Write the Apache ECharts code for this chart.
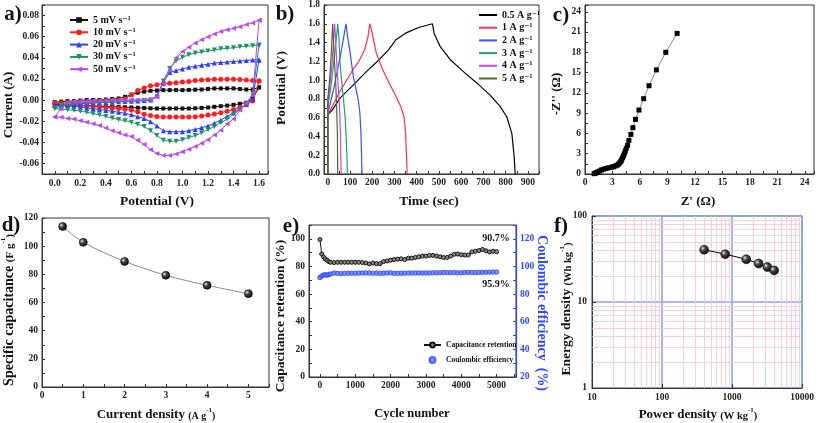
<!DOCTYPE html>
<html>
<head>
<meta charset="utf-8">
<script src="https://cdn.jsdelivr.net/npm/echarts@6/dist/echarts.min.js"></script>
<style>
  html, body { margin: 0; padding: 0; background: #fff; }
  #chart { width: 817px; height: 423px; }
</style>
</head>
<body>
<div id="chart"></div>
<script>
// ---------- a) cyclic voltammetry ----------
const cvV = [0, 0.05, 0.1, 0.15, 0.2, 0.25, 0.3, 0.35, 0.4, 0.45, 0.5, 0.55, 0.6, 0.65, 0.7, 0.75, 0.8,
  0.85, 0.9, 0.95, 1.0, 1.05, 1.1, 1.15, 1.2, 1.25, 1.3, 1.35, 1.4, 1.45, 1.5, 1.55, 1.6]
const cvNames = ['5 mV s⁻¹', '10 mV s⁻¹', '20 mV s⁻¹', '30 mV s⁻¹', '50 mV s⁻¹']
// anodic (forward) branch, current in A
const cv5Up = [-0.002, -0.0015, -0.001, -0.001, -0.0005, 0, 0, 0, 0.0005, 0.001, 0.0015, 0.003, 0.005, 0.007, 0.008, 0.0088, 0.009,
  0.0094, 0.0094, 0.0094, 0.0094, 0.0096, 0.0098, 0.010, 0.0105, 0.011, 0.011, 0.011, 0.011, 0.0105, 0.010, 0.010, 0.012]
const cv10Up = [-0.003, -0.0028, -0.0025, -0.0022, -0.002, -0.0018, -0.0015, -0.0012, -0.001, -0.0005, 0, 0.001, 0.005, 0.009, 0.0115, 0.0135, 0.0145,
  0.0155, 0.016, 0.0165, 0.017, 0.0175, 0.0185, 0.019, 0.0193, 0.0196, 0.0197, 0.0197, 0.0197, 0.0195, 0.019, 0.0185, 0.018]
const cv20Up = [-0.005, -0.0045, -0.004, -0.0037, -0.0034, -0.0031, -0.0028, -0.0025, -0.0022, -0.002, -0.0017, -0.0014, -0.0011, -0.0008, -0.0005, 0, 0.004,
  0.017, 0.026, 0.028, 0.0295, 0.031, 0.032, 0.033, 0.034, 0.035, 0.0355, 0.036, 0.0365, 0.037, 0.0375, 0.038, 0.038]
const cv30Up = [-0.008, -0.005, -0.004, -0.0035, -0.003, -0.0028, -0.0025, -0.0022, -0.002, -0.0018, -0.0015, -0.0012, -0.001, -0.0008, -0.0005, 0, 0.003,
  0.018, 0.030, 0.037, 0.0405, 0.043, 0.0445, 0.0455, 0.0465, 0.0475, 0.0485, 0.049, 0.0495, 0.0505, 0.051, 0.0515, 0.052]
const cv50Up = [-0.016, -0.008, -0.002, -0.0012, -0.001, -0.0008, -0.0006, -0.0004, -0.0002, 0, 0, 0, 0, 0, 0.0003, 0.0005, 0.003,
  0.016, 0.028, 0.040, 0.046, 0.050, 0.054, 0.057, 0.060, 0.0625, 0.065, 0.0665, 0.068, 0.0695, 0.0715, 0.073, 0.0755]
// cathodic (reverse) branch, listed with rising potential
const cv5Down = [-0.004, -0.0042, -0.0045, -0.0048, -0.005, -0.0052, -0.0055, -0.0058, -0.006, -0.0063, -0.0066, -0.0068, -0.007, -0.0073, -0.0076, -0.0078, -0.008,
  -0.008, -0.008, -0.008, -0.008, -0.008, -0.0078, -0.0074, -0.007, -0.0064, -0.0058, -0.0052, -0.0045, -0.0035, -0.0025, 0.0012, 0.012]
const cv10Down = [-0.003, -0.0035, -0.004, -0.0045, -0.005, -0.0055, -0.006, -0.0066, -0.007, -0.0075, -0.008, -0.0087, -0.0095, -0.011, -0.0135, -0.0145, -0.0155,
  -0.016, -0.016, -0.016, -0.016, -0.016, -0.0157, -0.015, -0.0142, -0.0132, -0.012, -0.0105, -0.009, -0.007, -0.0045, -0.0008, 0.018]
const cv20Down = [-0.005, -0.0052, -0.0056, -0.006, -0.0067, -0.0074, -0.0082, -0.009, -0.0098, -0.0106, -0.0115, -0.0125, -0.014, -0.0157, -0.0175, -0.0205, -0.0245,
  -0.029, -0.030, -0.030, -0.030, -0.029, -0.0278, -0.0262, -0.0245, -0.022, -0.019, -0.0155, -0.012, -0.008, -0.004, 0.0015, 0.038]
const cv30Down = [-0.008, -0.0088, -0.0092, -0.0097, -0.0105, -0.0115, -0.0128, -0.014, -0.0155, -0.017, -0.0185, -0.0195, -0.021, -0.023, -0.025, -0.029, -0.0335,
  -0.038, -0.039, -0.039, -0.0375, -0.0355, -0.0335, -0.031, -0.028, -0.025, -0.0215, -0.018, -0.0135, -0.009, -0.0035, 0.006, 0.052]
const cv50Down = [-0.016, -0.0163, -0.0175, -0.018, -0.0195, -0.021, -0.0225, -0.024, -0.0265, -0.029, -0.031, -0.033, -0.0345, -0.038, -0.042, -0.047, -0.0505,
  -0.0525, -0.0525, -0.051, -0.049, -0.0465, -0.044, -0.041, -0.0375, -0.033, -0.0285, -0.0225, -0.018, -0.0095, -0.003, 0.005, 0.0755]

// ---------- b) charge / discharge, [time s, potential V] ----------
const gcdNames = ['0.5 A g⁻¹', '1 A g⁻¹', '2 A g⁻¹', '3 A g⁻¹', '4 A g⁻¹', '5 A g⁻¹']
const gcd05 = [[0, 0], [0, 0.63], [20, 0.68], [56, 0.81], [115, 0.95], [174, 1.09], [232, 1.22], [276, 1.33], [306, 1.43], [350, 1.5], [409, 1.56], [471, 1.6],
  [478, 1.5], [505, 1.36], [550, 1.22], [610, 1.09], [670, 0.97], [730, 0.84], [775, 0.72], [805, 0.61], [828, 0.43], [838, 0.19], [843, 0]]
const gcd1 = [[0, 0], [0, 0.63], [20, 0.72], [50, 0.86], [80, 0.98], [110, 1.1], [140, 1.2], [165, 1.32], [180, 1.45], [189, 1.6],
  [196, 1.54], [218, 1.29], [247, 1.11], [276, 0.97], [306, 0.83], [328, 0.72], [343, 0.61], [350, 0.43], [354, 0.2], [357, 0]]
const gcd2 = [[0, 0], [0, 0.64], [26, 0.9], [56, 1.25], [82, 1.6], [90, 1.45], [100, 1.3], [115, 1.04], [130, 0.87], [137, 0.79], [144, 0.66], [149, 0.45], [152, 0.2], [154, 0]]
const gcd3 = [[0, 0], [0, 0.7], [15, 0.95], [30, 1.25], [45, 1.6], [50, 1.45], [56, 1.15], [64, 0.95], [71, 0.79], [78, 0.6], [82, 0.43], [86, 0.2], [88, 0]]
const gcd4 = [[0, 0], [0, 0.75], [10, 0.95], [20, 1.2], [31, 1.6], [35, 1.45], [41, 1.15], [48, 0.9], [53, 0.7], [56, 0.5], [58, 0.25], [60, 0]]
const gcd5 = [[0, 0], [0, 0.8], [8, 1.0], [15, 1.25], [22, 1.6], [25, 1.45], [30, 1.2], [36, 0.95], [40, 0.7], [43, 0.45], [44, 0.2], [45, 0]]

// ---------- c) Nyquist ----------
const zRe = [1.0, 1.1, 1.25, 1.4, 1.6, 1.8, 2.0, 2.3, 2.6, 2.9, 3.1, 3.3, 3.5, 3.65, 3.8, 3.9, 4.0, 4.1, 4.2, 4.3, 4.4, 4.5,
  4.65, 4.79, 5.01, 5.23, 5.52, 5.89, 6.4, 6.99, 7.79, 8.82, 10.06]
const zIm = [0.05, 0.1, 0.2, 0.3, 0.45, 0.6, 0.7, 0.82, 0.92, 1.0, 1.08, 1.18, 1.3, 1.45, 1.65, 1.85, 2.1, 2.4, 2.7, 3.0, 3.4, 3.8,
  4.24, 4.98, 5.86, 6.85, 8.08, 9.46, 11.14, 13.06, 15.4, 18.0, 20.8]

// ---------- d) rate capability ----------
const currentDensity = [0.5, 1, 2, 3, 4, 5]
const specCap = [114, 102.7, 89.2, 79.3, 72.2, 66.3]

// ---------- e) cycling ----------
const cycles = [0, 50, 100, 150, 200, 250, 300, 400, 500, 600, 700, 800, 900, 1000, 1100, 1200, 1300, 1400, 1500, 1600, 1700,
  1800, 1900, 2000, 2100, 2200, 2300, 2400, 2500, 2600, 2700, 2800, 2900, 3000, 3100, 3200, 3300, 3400, 3500, 3600, 3700,
  3800, 3900, 4000, 4100, 4200, 4300, 4400, 4500, 4600, 4700, 4800, 4900, 5000]
const retention = [99.5, 89, 87, 85.5, 84.5, 83.5, 83, 82.8, 83, 83, 83, 83, 83, 83, 83, 82.8, 82.5, 81.8, 82.5, 82, 82,
  83.5, 84, 84.5, 85, 85.3, 85.5, 85, 86, 86, 86.5, 87, 87.5, 87.5, 88, 88, 87.5, 87, 86.5, 86.5, 87.5,
  88.8, 89, 88.5, 88.3, 88.3, 90.5, 91, 91.5, 92.3, 91.3, 90.5, 91, 90.7]
const coulombic = [92, 93, 93.8, 94, 93.6, 94.2, 94.5, 95.2, 95, 94.8, 95, 95, 95.1, 95, 95.2, 95.2, 95.3, 95.2, 95.1, 95.2, 95,
  95.1, 95.3, 95.4, 95, 95, 95.1, 95.1, 95.2, 95.2, 95.3, 95.3, 95.2, 95.3, 95.3, 95.4, 95.4, 95.5, 95.6, 95.6, 95.5,
  95.6, 95.4, 95.5, 95.6, 95.7, 95.6, 95.6, 95.7, 95.7, 95.8, 95.8, 95.9, 95.9]

// ---------- f) Ragone ----------
const powerDensity = [400, 800, 1600, 2400, 3200, 4000]
const energyDensity = [40.5, 36, 31.4, 28, 25.5, 23.3]
const logMinorX = [20, 30, 40, 50, 60, 70, 80, 90, 200, 300, 400, 500, 600, 700, 800, 900, 2000, 3000, 4000, 5000, 6000, 7000, 8000, 9000]
const logMinorY = [2, 3, 4, 5, 6, 7, 8, 9, 20, 30, 40, 50, 60, 70, 80, 90]

const FONT = '"Liberation Serif", "DejaVu Serif", serif'

const pairs = (xs, ys) => xs.map((x, i) => [x, ys[i]])
// forward branch then reverse branch -> closed CV loop
const loop = (up, down) => pairs(cvV, up).concat(pairs(cvV, down).reverse())

const tickFmt = (step, dec, lo, hi) => (v) => {
  const k = v / step
  if (Math.abs(k - Math.round(k)) > 1e-6) return ''
  if (v < lo - 1e-9 || v > hi + 1e-9) return ''
  return (Math.round(k) * step).toFixed(dec)
}

const labelStyle = (fmt, margin, color) => ({
  fontFamily: FONT, fontWeight: 'bold', fontSize: 9.5, color: color || '#222', margin: margin, formatter: fmt
})

// value axis with inside ticks; step forced through min/maxInterval
const axis = (gridIndex, min, max, step, fmt, extra) => Object.assign({
  type: 'value',
  gridIndex: gridIndex,
  min: min,
  max: max,
  minInterval: step,
  maxInterval: step,
  axisLine: { show: true, onZero: false, lineStyle: { color: '#333', width: 1 } },
  axisTick: { show: true, inside: true, length: 3, lineStyle: { color: '#333' } },
  axisLabel: labelStyle(fmt, 4),
  splitLine: { show: false }
}, extra || {})

const logAxis = (gridIndex, min, max) => ({
  type: 'log', logBase: 10, gridIndex: gridIndex, min: min, max: max,
  axisLine: { show: true, onZero: false, lineStyle: { color: '#333' } },
  axisTick: { show: true, inside: true, length: 4, lineStyle: { color: '#333' } },
  axisLabel: labelStyle(v => String(Math.round(v)), 5),
  splitLine: { show: true, lineStyle: { color: '#8fa2f2', width: 1.6 } }
})

const grid = (left, top, width, height) => ({
  left: left, top: top, width: width, height: height,
  show: true, borderColor: '#333', borderWidth: 1, backgroundColor: 'transparent',
  containLabel: false, outerBoundsMode: 'none'
})

const sphere = {
  type: 'radial', x: 0.35, y: 0.35, r: 0.75,
  colorStops: [{ offset: 0, color: '#e6e6e6' }, { offset: 0.35, color: '#444' }, { offset: 1, color: '#000' }]
}

const cvColors = ['#111111', '#ff1e1e', '#2b3dff', '#21906a', '#b847ee']
const cvSymbols = ['rect', 'circle', 'triangle', 'path://M0,0 L10,0 L5,9 Z', 'path://M9,0 L9,10 L0,5 Z']
const cvLoops = [loop(cv5Up, cv5Down), loop(cv10Up, cv10Down), loop(cv20Up, cv20Down), loop(cv30Up, cv30Down), loop(cv50Up, cv50Down)]

const gcdColors = ['#000000', '#ff2d55', '#3a52f5', '#1f9e78', '#cc44ee', '#4d6b22']
const gcdData = [gcd05, gcd1, gcd2, gcd3, gcd4, gcd5]

const series = []
cvLoops.forEach((d, i) => {
  series.push({
    name: cvNames[i], type: 'line', xAxisIndex: 0, yAxisIndex: 0, data: d,
    symbol: cvSymbols[i], symbolSize: i === 0 ? 4 : 5, showAllSymbol: true,
    lineStyle: { color: cvColors[i], width: 1 }, itemStyle: { color: cvColors[i] }, z: 3 + i
  })
})
gcdData.forEach((d, i) => {
  series.push({
    name: gcdNames[i], type: 'line', xAxisIndex: 1, yAxisIndex: 1, data: d, symbol: 'none',
    lineStyle: { color: gcdColors[i], width: 1.2 }, itemStyle: { color: gcdColors[i] }, z: 3 + i
  })
})
series.push({
  type: 'line', xAxisIndex: 2, yAxisIndex: 2, data: pairs(zRe, zIm),
  symbol: 'rect', symbolSize: 5, showAllSymbol: true,
  lineStyle: { color: '#8a8a8a', width: 1 }, itemStyle: { color: '#000' }
})
series.push({
  type: 'line', xAxisIndex: 3, yAxisIndex: 3, data: pairs(currentDensity, specCap), smooth: 0.3,
  symbol: 'circle', symbolSize: 8, lineStyle: { color: '#8a8a8a', width: 1 },
  itemStyle: { color: sphere, borderColor: '#000', borderWidth: 0.5 }
})
series.push({
  name: 'Capacitance retention', type: 'line', xAxisIndex: 4, yAxisIndex: 4, data: pairs(cycles, retention),
  symbol: 'circle', symbolSize: 4, showAllSymbol: true, lineStyle: { color: '#111', width: 1 },
  itemStyle: { color: '#888', borderColor: '#111', borderWidth: 1 }
})
series.push({
  name: 'Coulombic efficiency', type: 'scatter', xAxisIndex: 4, yAxisIndex: 5, data: pairs(cycles, coulombic),
  symbol: 'circle', symbolSize: 4.5, itemStyle: { color: '#5a74ff', borderColor: '#2f47ff', borderWidth: 1 }
})
// light minor grid of the log-log panel
series.push({
  type: 'line', xAxisIndex: 5, yAxisIndex: 6, data: [], silent: true, z: 1,
  markLine: {
    silent: true, symbol: 'none', label: { show: false }, animation: false,
    lineStyle: { color: '#f6c4d4', type: 'solid', width: 0.8 },
    data: logMinorX.map(v => ({ xAxis: v })).concat(logMinorY.map(v => ({ yAxis: v })))
  }
})
series.push({
  type: 'line', xAxisIndex: 5, yAxisIndex: 6, data: pairs(powerDensity, energyDensity), z: 10,
  symbol: 'circle', symbolSize: 9, lineStyle: { color: '#000', width: 1 },
  itemStyle: { color: sphere, borderColor: '#000', borderWidth: 0.5 }
})

const legendText = { fontFamily: FONT, fontWeight: 'bold', fontSize: 10, color: '#111', lineHeight: 10 }

const txt = (text, x, y, size, rot, color) => ({
  type: 'text', x: x, y: y, rotation: rot || 0,
  style: { text: text, font: 'bold ' + size + 'px ' + FONT, fill: color || '#111', align: 'center', verticalAlign: 'middle' }
})
// title with a smaller unit part and a superscript -1
const unitTxt = (main, unit, x, y, size, usize, rot) => ({
  type: 'text', x: x, y: y, rotation: rot || 0,
  style: {
    text: '{m|' + main + ' }{u|(' + unit + '}{s|-1}{u|)}',
    align: 'center', verticalAlign: 'middle', fill: '#111',
    rich: {
      m: { fontFamily: FONT, fontWeight: 'bold', fontSize: size, lineHeight: size + 2, verticalAlign: 'bottom', fill: '#111' },
      u: { fontFamily: FONT, fontWeight: 'bold', fontSize: usize, lineHeight: usize + 3, verticalAlign: 'bottom', fill: '#111' },
      s: { fontFamily: FONT, fontWeight: 'bold', fontSize: 7, lineHeight: size + 2, verticalAlign: 'top', fill: '#111' }
    }
  }
})

const option = {
  animation: false,
  backgroundColor: '#fff',
  grid: [
    grid(42, 5, 226, 169),
    grid(324, 5, 215, 169),
    grid(585, 5, 229, 169),
    grid(42, 218, 227, 169),
    grid(309, 225, 207, 152),
    grid(592, 216, 210, 172)
  ],
  xAxis: [
    axis(0, -0.1, 1.67, 0.1, null, { axisLabel: labelStyle(tickFmt(0.2, 1, 0, 1.6), 5) }),
    axis(1, -17, 950, 50, tickFmt(100, 0, 0, 900)),
    axis(2, 0, 25, 1.5, tickFmt(3, 0, 0, 24)),
    axis(3, 0, 5.5, 0.5, tickFmt(1, 0, 0, 5)),
    axis(4, -310, 5550, 500, tickFmt(1000, 0, 0, 5000)),
    logAxis(5, 10, 10000)
  ],
  yAxis: [
    axis(0, -0.07, 0.09, 0.01, null, { axisLabel: labelStyle(tickFmt(0.02, 2, -0.06, 0.08), 3) }),
    axis(1, 0, 1.8, 0.1, tickFmt(0.2, 1, 0, 1.8)),
    axis(2, 0, 25, 1.5, tickFmt(3, 0, 0, 24)),
    axis(3, 0, 120, 10, tickFmt(20, 0, 0, 120)),
    axis(4, 0, 110, 10, tickFmt(20, 0, 0, 100)),
    axis(4, 20, 130, 10, null, {
      position: 'right',
      axisLine: { show: true, onZero: false, lineStyle: { color: '#2f47ff', width: 1.2 } },
      axisTick: { show: true, inside: true, length: 3, lineStyle: { color: '#2f47ff' } },
      axisLabel: labelStyle(tickFmt(20, 0, 20, 120), 4, '#2f47ff')
    }),
    logAxis(5, 1, 100)
  ],
  legend: [
    {
      data: cvNames, orient: 'vertical', left: 69, top: 15, padding: 0, itemWidth: 18, itemHeight: 7, itemGap: 2.3,
      textStyle: legendText, selectedMode: false
    },
    {
      data: gcdNames, orient: 'vertical', left: 479, top: 10, padding: 0, itemWidth: 18, itemHeight: 2, itemGap: 2.7,
      icon: 'rect', textStyle: legendText, selectedMode: false
    },
    {
      data: ['Capacitance retention', 'Coulombic efficiency'], orient: 'vertical', left: 423, top: 340, padding: 0,
      itemWidth: 17, itemHeight: 6, itemGap: 5, selectedMode: false,
      textStyle: { fontFamily: FONT, fontWeight: 'bold', fontSize: 7.5, color: '#111', lineHeight: 10 }
    }
  ],
  graphic: [
    txt('a)', 13, 15, 21), txt('b)', 285, 15, 21), txt('c)', 561, 16, 21),
    txt('d)', 11, 226, 21), txt('e)', 291, 227, 21), txt('f)', 561, 227, 21),
    txt('Current (A)', 9, 105, 13, Math.PI / 2),
    txt('Potential (V)', 157, 202, 13.5),
    txt('Potential (V)', 282, 88, 13.5, Math.PI / 2),
    txt('Time (sec)', 429, 202, 13.5),
    txt('-Z\'\' (Ω)', 557, 94, 13, Math.PI / 2),
    txt('Z\' (Ω)', 698, 202, 13),
    unitTxt('Specific capacitance', 'F g', 8, 310, 14, 11, Math.PI / 2),
    unitTxt('Current density', 'A g', 156, 414, 13, 10),
    txt('Capacitance retention (%)', 281, 316, 13.5, Math.PI / 2),
    txt('Cycle number', 412, 414, 12.5),
    txt('Coulombic efficiency  (%)', 542, 313, 14, -Math.PI / 2, '#2f47ff'),
    unitTxt('Energy density', 'Wh kg', 566, 309, 13.5, 10.5, Math.PI / 2),
    unitTxt('Power density', 'W kg', 698, 414, 13, 10.5),
    txt('90.7%', 496, 238, 10),
    txt('95.9%', 496, 284, 10)
  ],
  series: series
}

const chart = echarts.init(document.getElementById('chart'), null, { renderer: 'canvas' })
chart.setOption(option)
</script>
</body>
</html>
